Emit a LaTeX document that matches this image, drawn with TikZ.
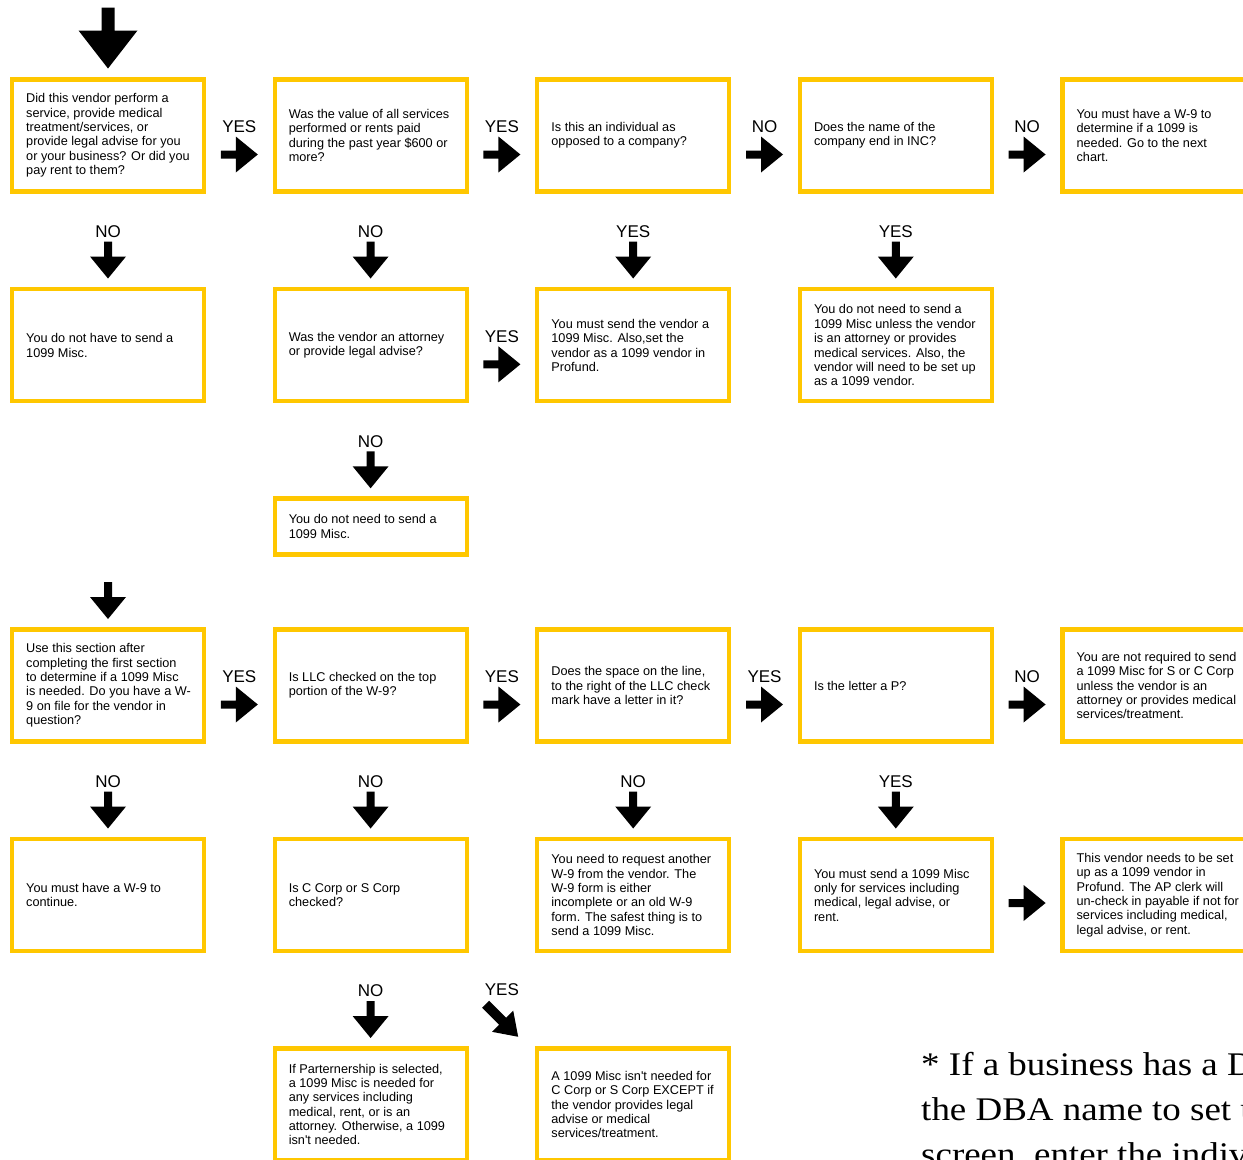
\documentclass[tikz,border=0pt]{standalone}
\usepackage{fontspec}
\newfontfamily\sansf{Liberation Sans}
\newfontfamily\seriff{Liberation Serif}
\usetikzlibrary{calc}
\definecolor{boxgold}{RGB}{255,199,0}
\tikzset{
  box/.style={draw=boxgold, line width=4.2bp, minimum width=192bp, minimum height=112bp,
              inner sep=0pt, outer sep=0pt, anchor=north west},
  txt/.style={anchor=west, align=left, inner sep=0pt,
              font=\sansf\fontsize{12.7bp}{14.35bp}\selectfont},
  lbl/.style={inner sep=0pt, font=\sansf\fontsize{17bp}{20bp}\selectfont},
  fn/.style={inner sep=0pt, anchor=base west, transform shape, font=\seriff\fontsize{33bp}{45bp}\selectfont},
  pics/barrow/.style n args={4}{code={
    \fill[black] ({-#1/2},{-#4/2}) -- ({#1/2-#2},{-#4/2}) -- ({#1/2-#2},{-#3/2})
      -- ({#1/2},0) -- ({#1/2-#2},{#3/2}) -- ({#1/2-#2},{#4/2}) -- ({-#1/2},{#4/2}) -- cycle;
  }}
}
\newcommand\flowbox[5][112bp]{%
  \node[box, minimum height=#1] (#2) at (#3,#4) {};
  \node[txt] (#2t) at ($(#2.west)+(14,0)$) {#5};}
\newcommand\rightarr[3]{%
  \pic at ($(#1.east)!0.5!(#2.west)+(0,19)$) {barrow={37}{22}{36}{8}};
  \node[lbl] (lab#1#2) at ($(#1.east)!0.5!(#2.west)+(0,-9)$) {#3};}
\newcommand\downarr[2]{%
  \pic[rotate=-90] at ($(#1.south)+(0,68.5)$) {barrow={37}{22}{36}{8}};
  \node[lbl] (lab#1) at ($(#1.south)+(0,40)$) {#2};}
\begin{document}
\begin{tikzpicture}[x=1bp, y=-1bp]
\useasboundingbox (0,0) rectangle (1243,1160);
\clip (0,0) rectangle (1243,1160);
\fill[white] (0,0) rectangle (1243,1160);

% row 1
\flowbox{b11}{12}{79.5}{Did this vendor perform a\\service, provide medical\\treatment/services, or\\provide legal advise for you\\or your business? Or did you\\pay rent to them?}
\flowbox{b12}{274.6}{79.5}{Was the value of all services\\performed or rents paid\\during the past year \$600 or\\more?}
\flowbox{b13}{537.2}{79.5}{Is this an individual as\\opposed to a company?}
\flowbox{b14}{799.8}{79.5}{Does the name of the\\company end in INC?}
\flowbox{b15}{1062.4}{79.5}{You must have a W-9 to\\determine if a 1099 is\\needed. Go to the next\\chart.}
% row 2
\flowbox{b21}{12}{289.3}{You do not have to send a\\1099 Misc.}
\flowbox{b22}{274.6}{289.3}{Was the vendor an attorney\\or provide legal advise?}
\flowbox{b23}{537.2}{289.3}{You must send the vendor a\\1099 Misc. Also,set the\\vendor as a 1099 vendor in\\Profund.}
\flowbox{b24}{799.8}{289.3}{You do not need to send a\\1099 Misc unless the vendor\\is an attorney or provides\\medical services. Also, the\\vendor will need to be set up\\as a 1099 vendor.}
% row 3
\flowbox[56bp]{b32}{274.6}{498.5}{You do not need to send a\\1099 Misc.}
% row 4
\flowbox{b41}{12}{629.5}{Use this section after\\completing the first section\\to determine if a 1099 Misc\\is needed. Do you have a W-\\9 on file for the vendor in\\question?}
\flowbox{b42}{274.6}{629.5}{Is LLC checked on the top\\portion of the W-9?}
\flowbox{b43}{537.2}{629.5}{Does the space on the line,\\to the right of the LLC check\\mark have a letter in it?}
\flowbox{b44}{799.8}{629.5}{Is the letter a P?}
\flowbox{b45}{1062.4}{629.5}{You are not required to send\\a 1099 Misc for S or C Corp\\unless the vendor is an\\attorney or provides medical\\services/treatment.}
% row 5
\flowbox{b51}{12}{839}{You must have a W-9 to\\continue.}
\flowbox{b52}{274.6}{839}{Is C Corp or S Corp\\checked?}
\flowbox{b53}{537.2}{839}{You need to request another\\W-9 from the vendor. The\\W-9 form is either\\incomplete or an old W-9\\form. The safest thing is to\\send a 1099 Misc.}
\flowbox{b54}{799.8}{839}{You must send a 1099 Misc\\only for services including\\medical, legal advise, or\\rent.}
\flowbox{b55}{1062.4}{839}{This vendor needs to be set\\up as a 1099 vendor in\\Profund. The AP clerk will\\un-check in payable if not for\\services including medical,\\legal advise, or rent.}
% row 6
\flowbox{b62}{274.6}{1048.5}{If Parternership is selected,\\a 1099 Misc is needed for\\any services including\\medical, rent, or is an\\attorney. Otherwise, a 1099\\isn't needed.}
\flowbox{b63}{537.2}{1048.5}{A 1099 Misc isn't needed for\\C Corp or S Corp EXCEPT if\\the vendor provides legal\\advise or medical\\services/treatment.}

% entry arrows
\pic[rotate=-90] at ($(b11.north)+(0,-41.5)$) {barrow={61}{38}{59}{13}};
\pic[rotate=-90] at ($(b41.north)+(0,-29)$) {barrow={37}{22}{36}{8}};

% horizontal arrows
\rightarr{b11}{b12}{YES}
\rightarr{b12}{b13}{YES}
\rightarr{b13}{b14}{NO}
\rightarr{b14}{b15}{NO}
\rightarr{b22}{b23}{YES}
\rightarr{b41}{b42}{YES}
\rightarr{b42}{b43}{YES}
\rightarr{b43}{b44}{YES}
\rightarr{b44}{b45}{NO}
\pic at ($(b54.east)!0.5!(b55.west)+(0,8)$) {barrow={37}{22}{36}{8}};

% vertical arrows
\downarr{b11}{NO}
\downarr{b12}{NO}
\downarr{b13}{YES}
\downarr{b14}{YES}
\downarr{b22}{NO}
\downarr{b41}{NO}
\downarr{b42}{NO}
\downarr{b43}{NO}
\downarr{b44}{YES}
\downarr{b52}{NO}

% diagonal arrow
\pic[rotate=-45] at ($(b52.east)!0.5!(b53.west)+(0,125.5)$) {barrow={46}{22}{30}{10}};
\node[lbl] (labdiag) at ($(b52.east)!0.5!(b53.west)+(0,95)$) {YES};

% footnote
\begin{scope}[shift={(921,0)}, xscale=1.12]
\node[fn] (fn1) at (0,1075) {* If a business has a DBA,};
\node[fn] (fn2) at (0,1120) {the DBA name to set up};
\node[fn] (fn3) at (0,1165) {screen, enter the individual};
\end{scope}
\end{tikzpicture}
\end{document}
